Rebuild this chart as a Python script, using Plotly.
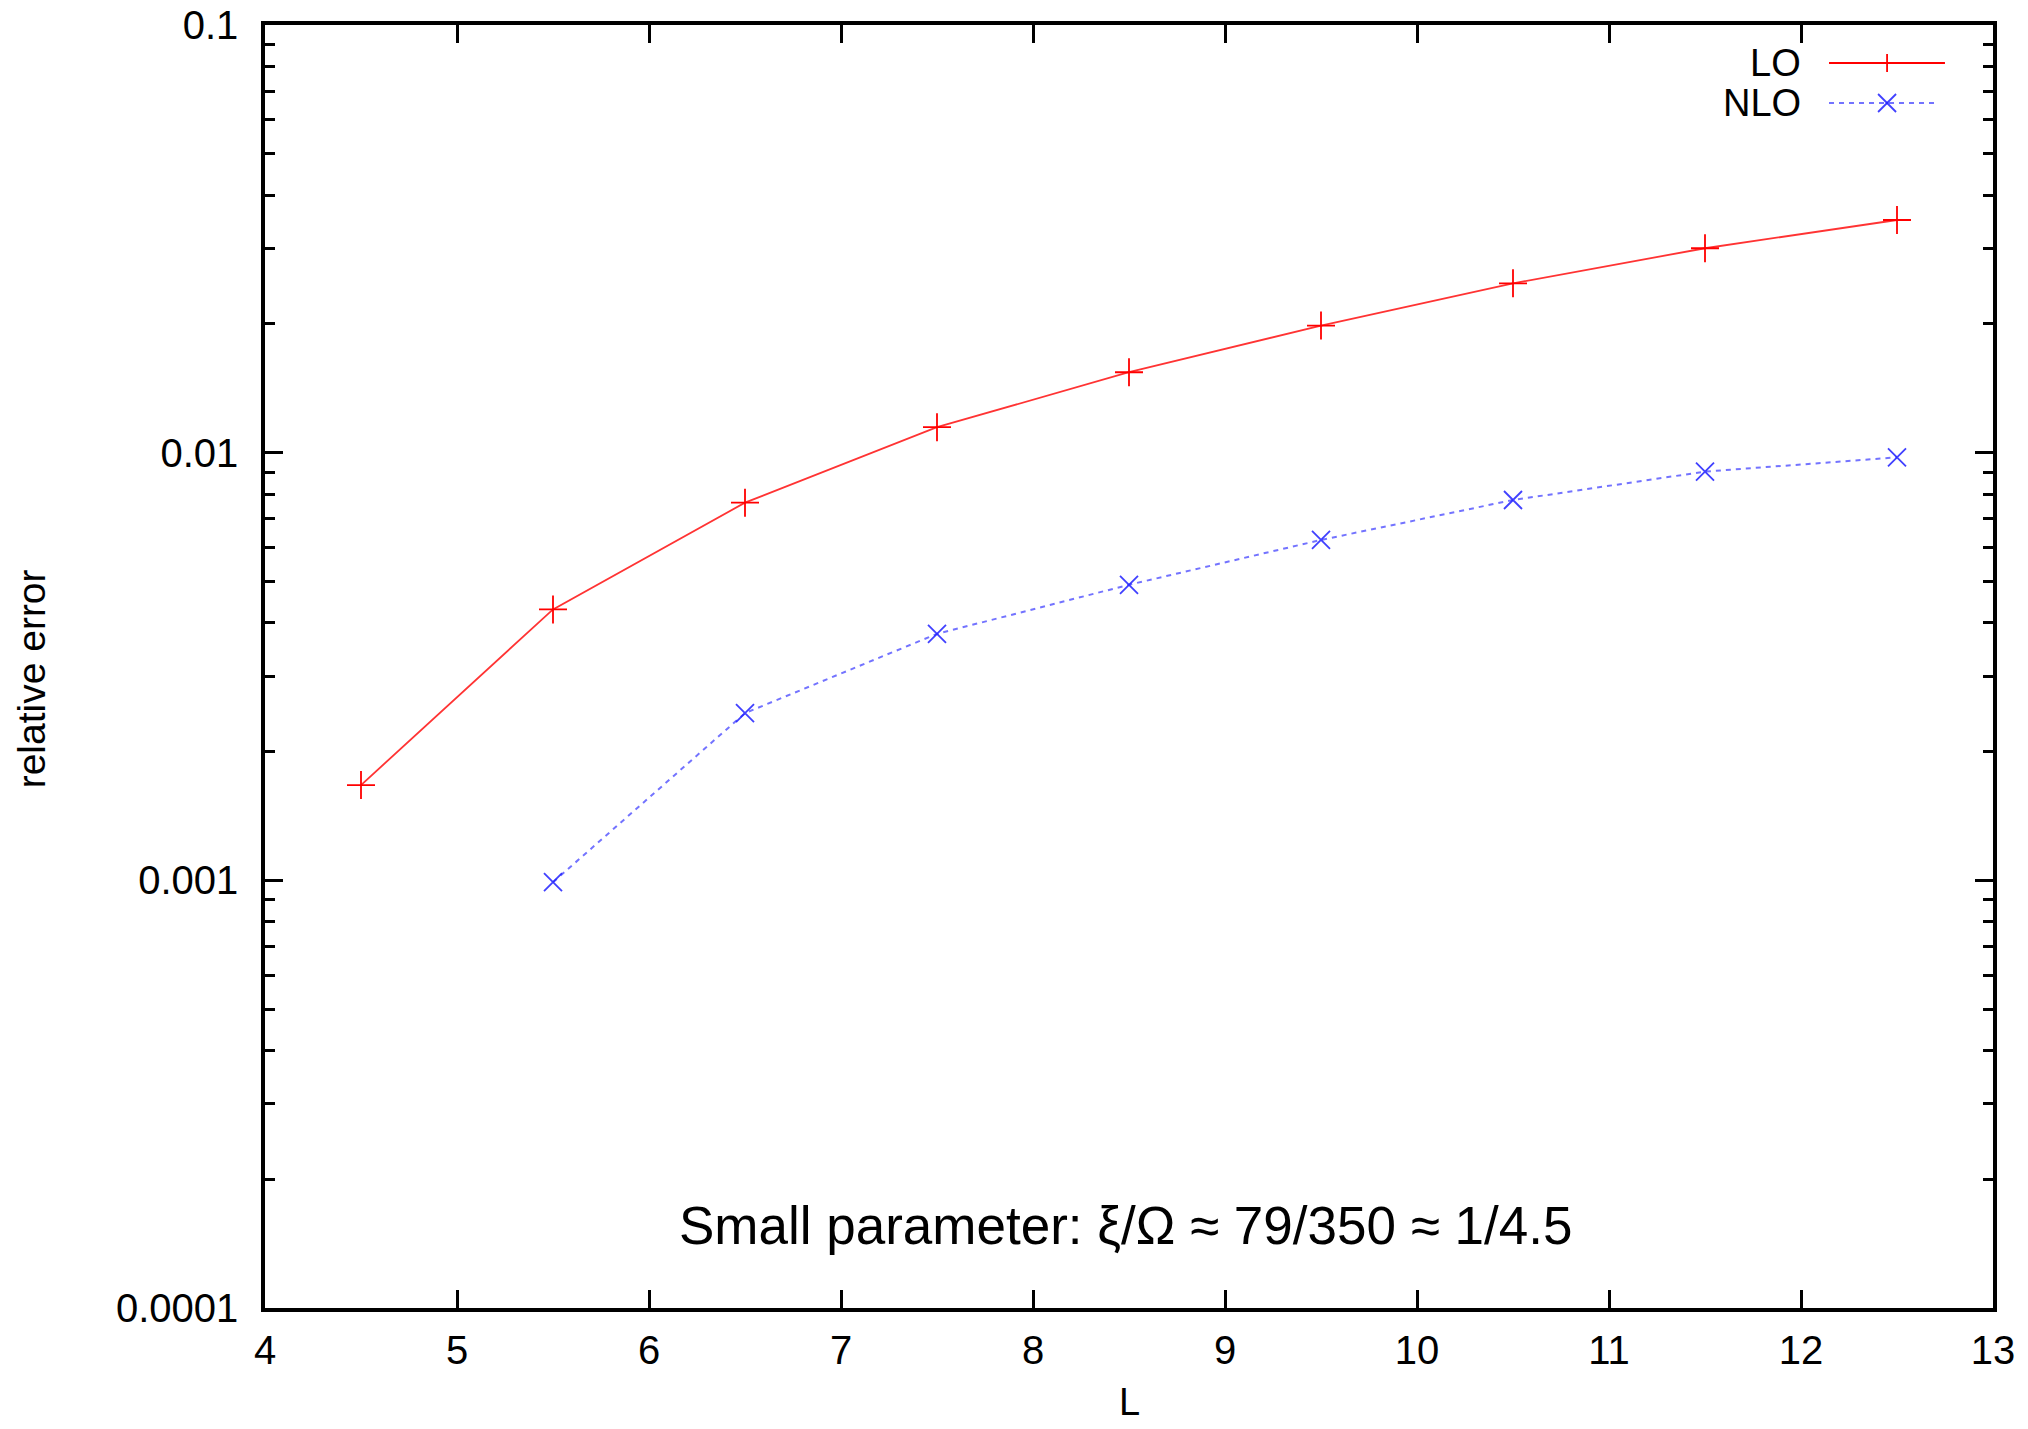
import plotly.graph_objects as go

# ---- data ----
L_lo = [4.5, 5.5, 6.5, 7.5, 8.5, 9.5, 10.5, 11.5, 12.5]
err_lo = [0.00167, 0.00430, 0.00764, 0.01147, 0.01542, 0.01982, 0.02489, 0.03006, 0.03500]
L_nlo = [5.5, 6.5, 7.5, 8.5, 9.5, 10.5, 11.5, 12.5]
err_nlo = [0.00099, 0.00246, 0.00377, 0.00491, 0.00625, 0.00775, 0.00903, 0.00975]

x_ticks = [4, 5, 6, 7, 8, 9, 10, 11, 12, 13]
y_ticks = [0.0001, 0.001, 0.01, 0.1]
y_ticktext = ["0.0001", "0.001", "0.01", "0.1"]

series_names = ["LO", "NLO"]
annotation_text = "Small parameter: \u03be/\u03a9 \u2248 79/350 \u2248 1/4.5"
x_title = "L"
y_title = "relative error"

FONT = "Liberation Sans, Arial, Helvetica, sans-serif"
RED = "#ff0000"
BLUE_LINE = "rgba(40,40,255,0.65)"
BLUE_MARK = "rgba(30,30,255,0.85)"

fig = go.Figure()
fig.add_trace(go.Scatter(
    x=L_lo, y=err_lo, mode="lines+markers", name=series_names[0],
    line=dict(color="rgba(255,0,0,0.8)", width=1.8),
    marker=dict(symbol="cross-thin", size=20, line=dict(color=RED, width=1.8)),
    showlegend=False,
))
fig.add_trace(go.Scatter(
    x=L_nlo, y=err_nlo, mode="lines+markers", name=series_names[1],
    line=dict(color=BLUE_LINE, width=2, dash="5px,5px"),
    marker=dict(symbol="x-thin", size=18, line=dict(color=BLUE_MARK, width=1.8)),
    showlegend=False,
))

axis_common = dict(
    showline=True, linecolor="black", linewidth=3.5, mirror="allticks",
    ticks="inside", tickcolor="black", tickwidth=3, ticklen=18,
    showgrid=False, zeroline=False, automargin=False,
    tickfont=dict(family=FONT, size=40, color="black"),
)

fig.update_xaxes(range=[4, 13], tickvals=x_ticks, ticktext=[str(v) for v in x_ticks],
                 ticklabelstandoff=4, **axis_common)
fig.update_yaxes(type="log", range=[-4, -1], tickvals=y_ticks, ticktext=y_ticktext,
                 ticklabelstandoff=15,
                 minor=dict(ticks="inside", ticklen=10, tickwidth=3, tickcolor="black",
                            dtick="D1", showgrid=False),
                 **axis_common)

# legend drawn gnuplot-style (text left of sample)
W, H = 1728.0, 1283.0
leg_x0, leg_x1, leg_xm = 0.9051, 0.9722, 0.9387
leg_text_x = 0.8900
leg_y = [0.9704, 0.9392]
shapes = []
# LO sample
shapes.append(dict(type="line", xref="paper", yref="paper", x0=leg_x0, x1=leg_x1,
                   y0=leg_y[0], y1=leg_y[0], line=dict(color=RED, width=1.8)))
shapes.append(dict(type="line", xref="paper", yref="paper", x0=leg_xm, x1=leg_xm,
                   y0=leg_y[0] - 9 / H, y1=leg_y[0] + 9 / H, line=dict(color=RED, width=1.8)))
# NLO sample
shapes.append(dict(type="line", xref="paper", yref="paper", x0=leg_x0, x1=leg_x1 - 6 / W,
                   y0=leg_y[1], y1=leg_y[1], line=dict(color=BLUE_LINE, width=2, dash="5px,5px")))
for s in (1, -1):
    shapes.append(dict(type="line", xref="paper", yref="paper",
                       x0=leg_xm - 9 / W, x1=leg_xm + 9 / W,
                       y0=leg_y[1] - s * 9 / H, y1=leg_y[1] + s * 9 / H,
                       line=dict(color=BLUE_MARK, width=1.8)))

annotations = []
for name, yy in zip(series_names, leg_y):
    annotations.append(dict(text=name, xref="paper", yref="paper", x=leg_text_x, y=yy,
                            xanchor="right", yanchor="middle", showarrow=False,
                            font=dict(family=FONT, size=38, color="black")))
annotations.append(dict(text=annotation_text, xref="paper", yref="paper", x=0.498, y=0.064,
                        xanchor="center", yanchor="middle", showarrow=False,
                        font=dict(family=FONT, size=53, color="black")))
annotations.append(dict(text=x_title, xref="paper", yref="paper", x=0.5, y=-0.073,
                        xanchor="center", yanchor="middle", showarrow=False,
                        font=dict(family=FONT, size=38, color="black")))
annotations.append(dict(text=y_title, xref="paper", yref="paper", x=-0.1354, y=0.49,
                        xanchor="center", yanchor="middle", showarrow=False, textangle=-90,
                        font=dict(family=FONT, size=39, color="black")))

fig.update_layout(
    width=2028, height=1429,
    margin=dict(l=265, r=35, t=25, b=121),
    paper_bgcolor="white", plot_bgcolor="white",
    shapes=shapes, annotations=annotations,
    font=dict(family=FONT, color="black"),
)

fig.write_html("out.html", config={"displayModeBar": False},
               post_script="document.body.style.margin='0';document.body.style.overflow='hidden';")
